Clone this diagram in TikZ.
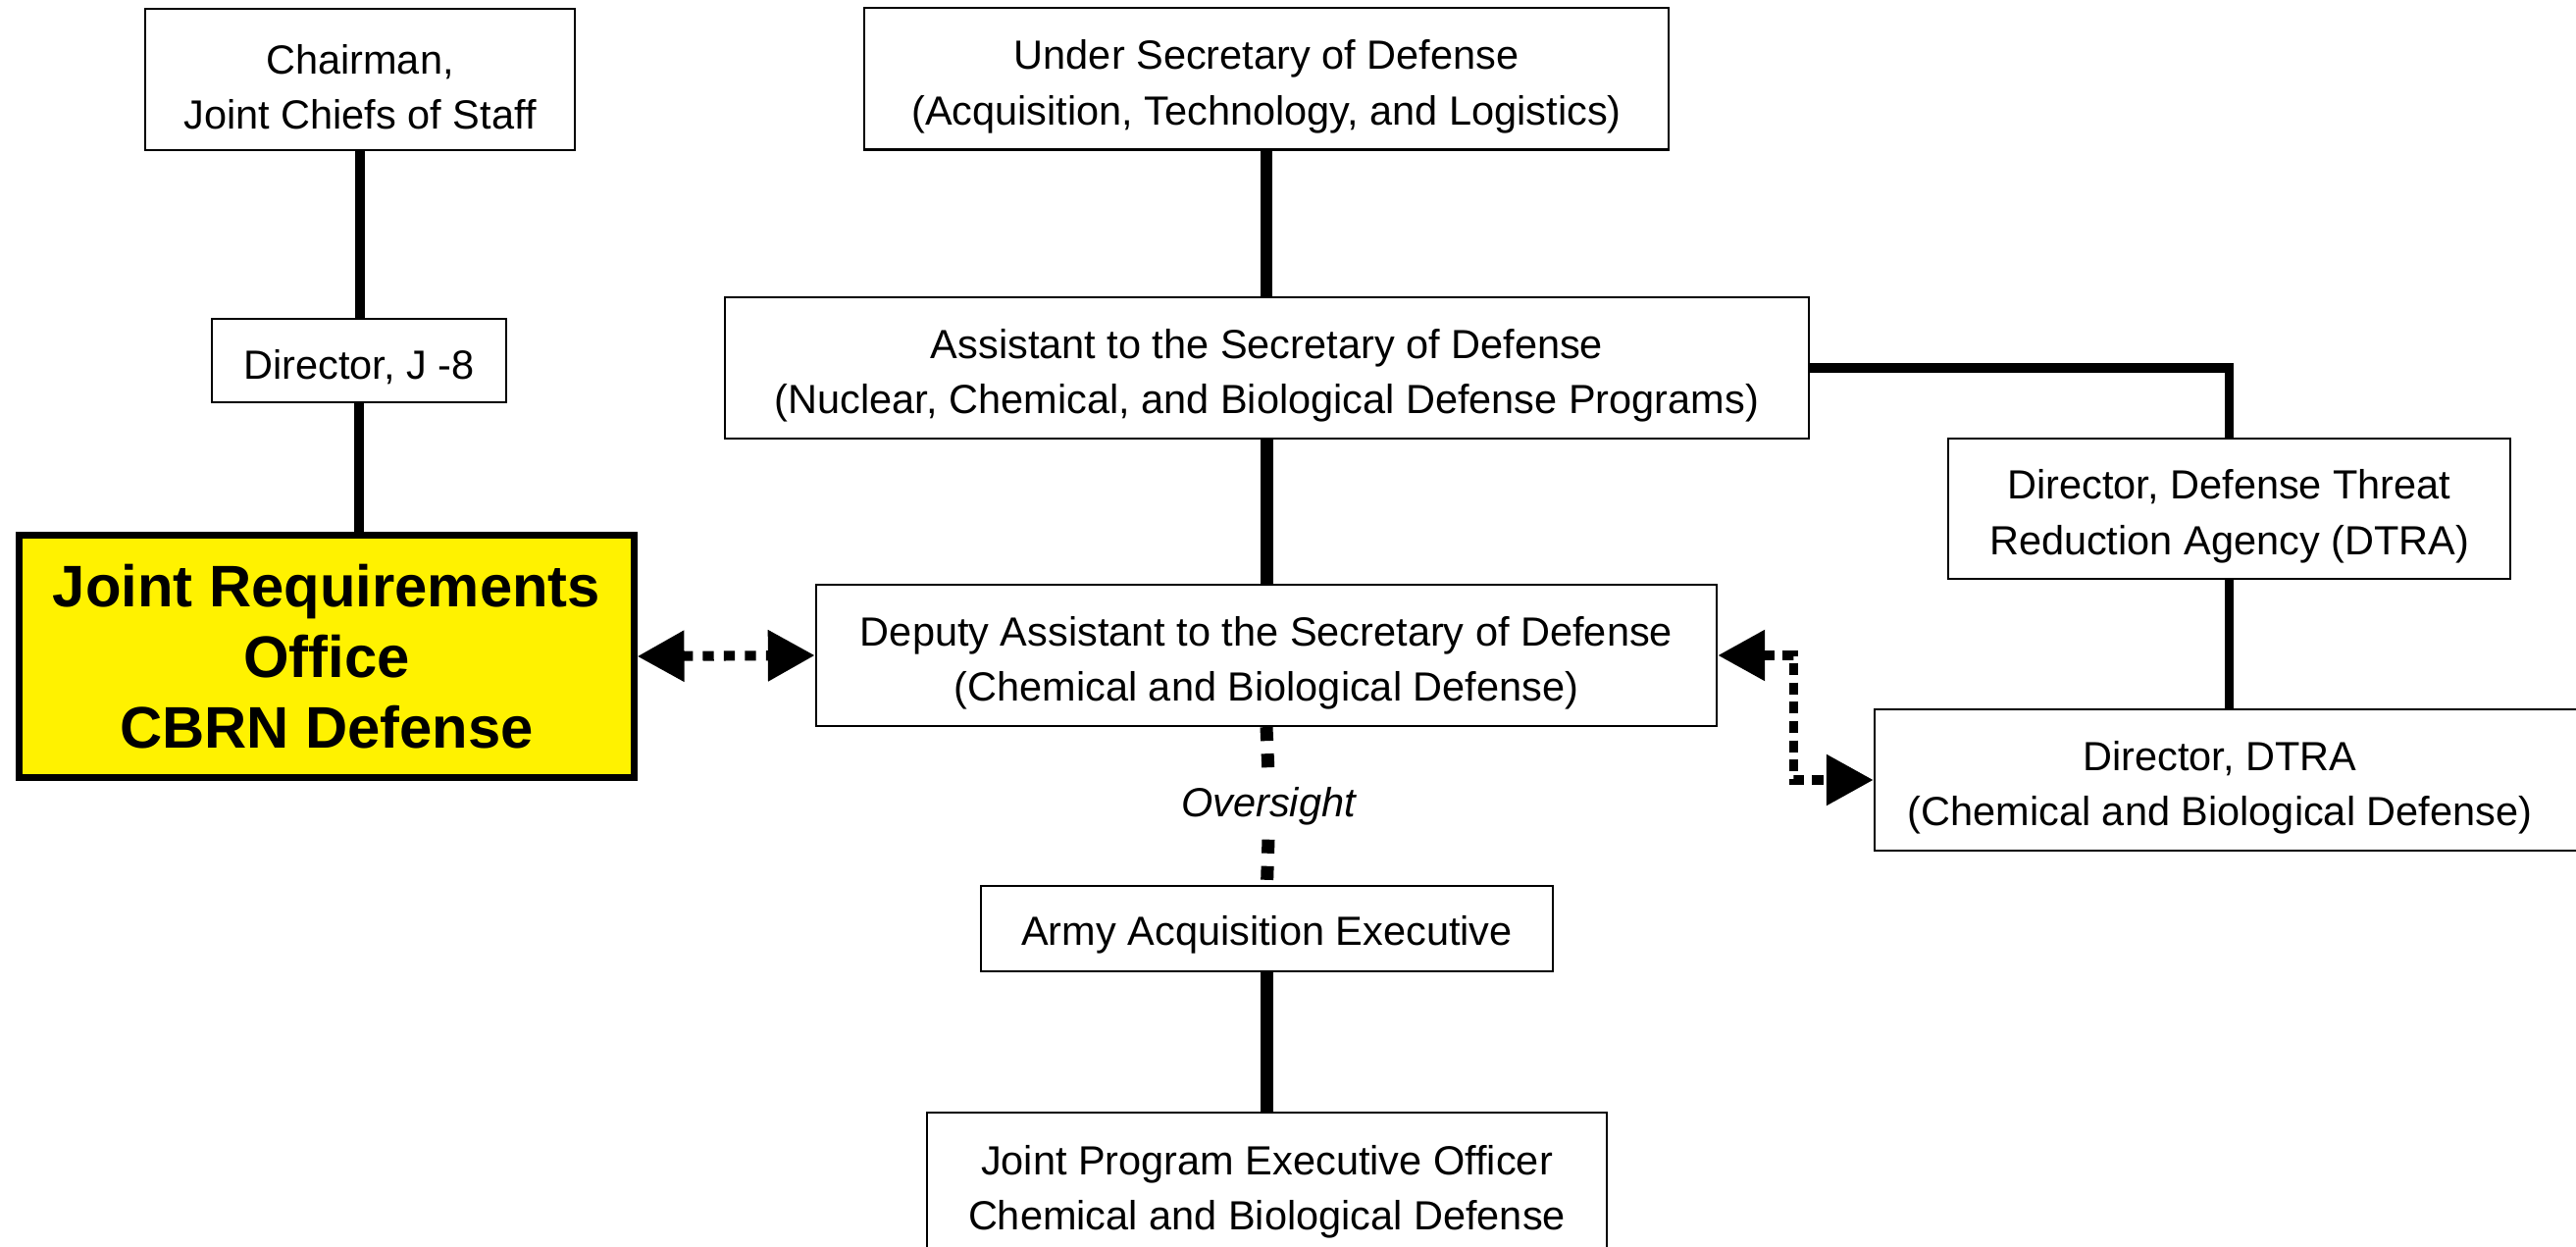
\documentclass[tikz,border=0pt]{standalone}
\usepackage{fontspec}
\setmainfont{Liberation Sans}
\usetikzlibrary{arrows.meta}
\newlength\pxu
\setlength\pxu{0.284528pt}
\newcommand\toprule[1]{\rule{0pt}{#1}}
\begin{document}
\begin{tikzpicture}[x=0.01cm,y=-0.01cm,
  box/.style={draw, line width=0.6pt, fill=white, align=center, inner sep=0pt,
    font=\fontsize{11.8}{16}\selectfont},
  txt/.style={align=center, inner sep=0pt,
    font=\fontsize{11.8}{16}\selectfont},
  mainline/.style={line width=3.5pt},
  thinline/.style={line width=2.6pt},
  dbltip/.style={{Triangle[length=13.6pt,width=14.2pt]}-{Triangle[length=13.6pt,width=14.2pt]}},
  dotsa/.style={line width=2.85pt, dash pattern=on 3.2pt off 2.9pt},
  dotsb/.style={line width=2.6pt, dash pattern=on 3.4pt off 2.2pt},
  dotsc/.style={line width=3.7pt, dash pattern=on 4pt off 3.7pt},
]
\useasboundingbox (0,0) rectangle (2626,1271);
\fill[white] (0,0) rectangle (2626,1271);

% boxes
\node[box, minimum width=438\pxu, minimum height=144\pxu] (chair) at (367,81)
  {\toprule{13pt}Chairman,\\Joint Chiefs of Staff};
\node[box, minimum width=300\pxu, minimum height=85\pxu] (j8) at (366,367.5)
  {\toprule{12.2pt}Director, J -8};
\node[draw, line width=2pt, fill=yellow, align=center, inner sep=0pt,
  minimum width=626\pxu, minimum height=246\pxu,
  font=\fontsize{17}{20.4}\selectfont\bfseries] (jro) at (333,669)
  {Joint Requirements\\Office\\CBRN Defense};
\node[box, minimum width=820\pxu, minimum height=144\pxu] (usd) at (1291,80.5)
  {\toprule{13pt}Under Secretary of Defense\\(Acquisition, Technology, and Logistics)};
\node[box, minimum width=1105\pxu, minimum height=144\pxu] (asd) at (1291.5,375)
  {\toprule{13pt}Assistant to the Secretary of Defense\\(Nuclear, Chemical, and Biological Defense Programs)};
\node[box, minimum width=573\pxu, minimum height=143\pxu] (dtra) at (2272.5,518.5)
  {\toprule{13pt}Director, Defense Threat\\Reduction Agency (DTRA)};
\node[box, minimum width=918\pxu, minimum height=144\pxu] (dasd) at (1291,668)
  {\toprule{13pt}Deputy Assistant to the Secretary of Defense\\(Chemical and Biological Defense)};
\node[box, minimum width=789\pxu, minimum height=144\pxu] (dtracb) at (2305.5,795) {};
\node[txt] (dtracbtext) at (2263,795)
  {\toprule{13pt}Director, DTRA\\(Chemical and Biological Defense)};
\node[box, minimum width=583\pxu, minimum height=87\pxu] (army) at (1291.5,946.5)
  {\toprule{12.2pt}Army Acquisition Executive};
\node[box, minimum width=693\pxu, minimum height=146\pxu] (jpeo) at (1291.5,1207)
  {\toprule{13pt}Joint Program Executive Officer\\Chemical and Biological Defense};
\node[align=center, inner sep=0pt, minimum height=66\pxu,
  font=\fontsize{11.8}{15}\selectfont\itshape] (oversight) at (1293,822)
  {Oversight};

% solid connectors
\draw[thinline] (chair.south) -- (chair.south |- j8.north);
\draw[thinline] (j8.south) -- (j8.south |- jro.north);
\draw[mainline] (usd.south) -- (usd.south |- asd.north);
\draw[mainline] (asd.south) -- (asd.south |- dasd.north);
\draw[thinline] (asd.east) -| (dtra.north);
\draw[thinline] (dtra.south) -- (dtra.south |- dtracb.north);
\draw[mainline] (army.south) -- (army.south |- jpeo.north);

% dotted connectors
\draw[dotsa, dbltip] (jro.east) -- (dasd.west);
\draw[dotsb, dbltip] (dasd.east) -- ++(77,0) |- (dtracb.west);
\draw[dotsc] (dasd.south) -- (oversight.north);
\draw[dotsc] (oversight.south) -- (army.north);
\end{tikzpicture}
\end{document}
